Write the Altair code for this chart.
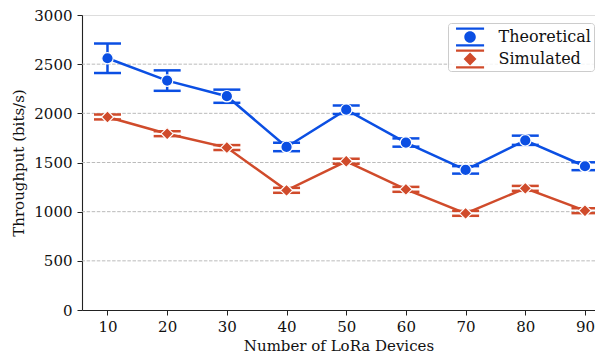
import altair as alt
import pandas as pd

devices = [10, 20, 30, 40, 50, 60, 70, 80, 90]
theoretical = [2560, 2333, 2174, 1658, 2037, 1703, 1425, 1726, 1462]
theoretical_err = [150, 104, 67, 43, 43, 42, 38, 47, 40]
simulated = [1963, 1793, 1652, 1217, 1512, 1227, 983, 1237, 1010]
simulated_err = [25, 25, 25, 25, 25, 25, 25, 25, 25]
series_names = ["Theoretical", "Simulated"]
colors = ["#0b4fe3", "#d04b2b"]
grid_values = [500, 1000, 1500, 2000, 2500]
y_ticks = [0, 500, 1000, 1500, 2000, 2500, 3000]

rows = []
for name, vals, errs in [("Theoretical", theoretical, theoretical_err),
                         ("Simulated", simulated, simulated_err)]:
    for n, v, e in zip(devices, vals, errs):
        rows.append({"n": n, "series": name, "value": v, "lo": v - e, "hi": v + e})
df = pd.DataFrame(rows)
grid_df = pd.DataFrame({"g": grid_values})

FONT = "'DejaVu Serif', 'Liberation Serif', serif"
xscale = alt.Scale(domain=[5.73, 91.68], nice=False, zero=False)
yscale = alt.Scale(domain=[0, 3000], nice=False)
cscale = alt.Scale(domain=series_names, range=colors)

xax = alt.Axis(values=devices, title="Number of LoRa Devices", grid=False, format="d",
               labelFont=FONT, labelFontSize=15, titleFont=FONT, titleFontSize=15,
               titleFontWeight="normal", labelColor="#111", titleColor="#111",
               domainColor="#222", tickColor="#222", tickSize=5, labelPadding=4,
               titlePadding=4, domainWidth=1.1)
yax = alt.Axis(values=y_ticks, title="Throughput (bits/s)", format="d",
               grid=False, labelFont=FONT, labelFontSize=15, titleFont=FONT,
               titleFontSize=15, titleFontWeight="normal", labelColor="#111",
               titleColor="#111", domainColor="#222", tickColor="#222", tickSize=5,
               labelPadding=5, titlePadding=7, domainWidth=1.1)

cap_path = "M-0.52,-0.82H1.92V-0.62H-0.52Z M-0.52,0.62H1.92V0.82H-0.52Z "
path_t = cap_path + "M1.2,0A0.5,0.5 0 1 1 0.2,0A0.5,0.5 0 1 1 1.2,0Z"
path_s = cap_path + "M0.7,-0.56L1.26,0L0.7,0.56L0.14,0Z"

leg = alt.Legend(title=None, orient="none", legendX=366, legendY=8,
                 padding=2.5, rowPadding=1, labelOffset=25,
                 labelFont=FONT, labelFontSize=16, labelColor="#111",
                 strokeColor="#cccccc", fillColor="rgba(255,255,255,0.85)",
                 cornerRadius=3, symbolSize=529, symbolStrokeWidth=0)

color_enc = alt.Color("series:N", scale=cscale, legend=leg)

base = alt.Chart(df)

legend_layer = base.mark_point(filled=True, opacity=1, clip=True, size=529, strokeWidth=0).encode(
    x=alt.X("n:Q", scale=xscale, axis=xax),
    y=alt.Y("off:Q", scale=yscale, axis=yax),
    color=color_enc,
    shape=alt.Shape("series:N", scale=alt.Scale(domain=series_names, range=[path_t, path_s]),
                    legend=leg),
).transform_calculate(off="-1000")

grid = alt.Chart(grid_df).mark_rule(color="#b3b3b3", strokeWidth=0.9, strokeDash=[3.5, 1.6]).encode(
    y=alt.Y("g:Q", scale=yscale, axis=yax)
)

lines = base.mark_line(strokeWidth=2.5).encode(
    x=alt.X("n:Q", scale=xscale, axis=xax),
    y=alt.Y("value:Q", scale=yscale, axis=yax),
    color=color_enc,
    order="n:Q",
    detail="series:N",
)

bars = base.mark_rule(strokeWidth=2.5, opacity=1).encode(
    x=alt.X("n:Q", scale=xscale, axis=xax),
    y=alt.Y("lo:Q", scale=yscale, axis=yax), y2="hi:Q",
    color=color_enc,
)

caps_lo = base.mark_tick(orient="horizontal", size=27, thickness=2.5, opacity=1).encode(
    x=alt.X("n:Q", scale=xscale, axis=xax),
    y=alt.Y("lo:Q", scale=yscale, axis=yax),
    color=color_enc,
)
caps_hi = base.mark_tick(orient="horizontal", size=27, thickness=2.5, opacity=1).encode(
    x=alt.X("n:Q", scale=xscale, axis=xax),
    y=alt.Y("hi:Q", scale=yscale, axis=yax),
    color=color_enc,
)

pts_t = base.transform_filter(alt.datum.series == "Theoretical").mark_point(
    filled=True, opacity=1, shape="circle", size=130, stroke="white", strokeWidth=1.2
).encode(x=alt.X("n:Q", scale=xscale, axis=xax),
         y=alt.Y("value:Q", scale=yscale, axis=yax), color=color_enc)

pts_s = base.transform_filter(alt.datum.series == "Simulated").mark_point(
    filled=True, opacity=1, shape="diamond", size=150, stroke="white", strokeWidth=1.2
).encode(x=alt.X("n:Q", scale=xscale, axis=xax),
         y=alt.Y("value:Q", scale=yscale, axis=yax), color=color_enc)

chart = alt.layer(legend_layer, grid, lines, bars, caps_lo, caps_hi, pts_t, pts_s).properties(
    width=513, height=295,
    autosize=alt.AutoSizeParams(type="none"),
    padding={"left": 74, "top": 7, "right": 0, "bottom": 44},
).configure_view(stroke=None).configure(background="white")

chart.save("out.html", embed_options={"renderer": "svg", "actions": False})
